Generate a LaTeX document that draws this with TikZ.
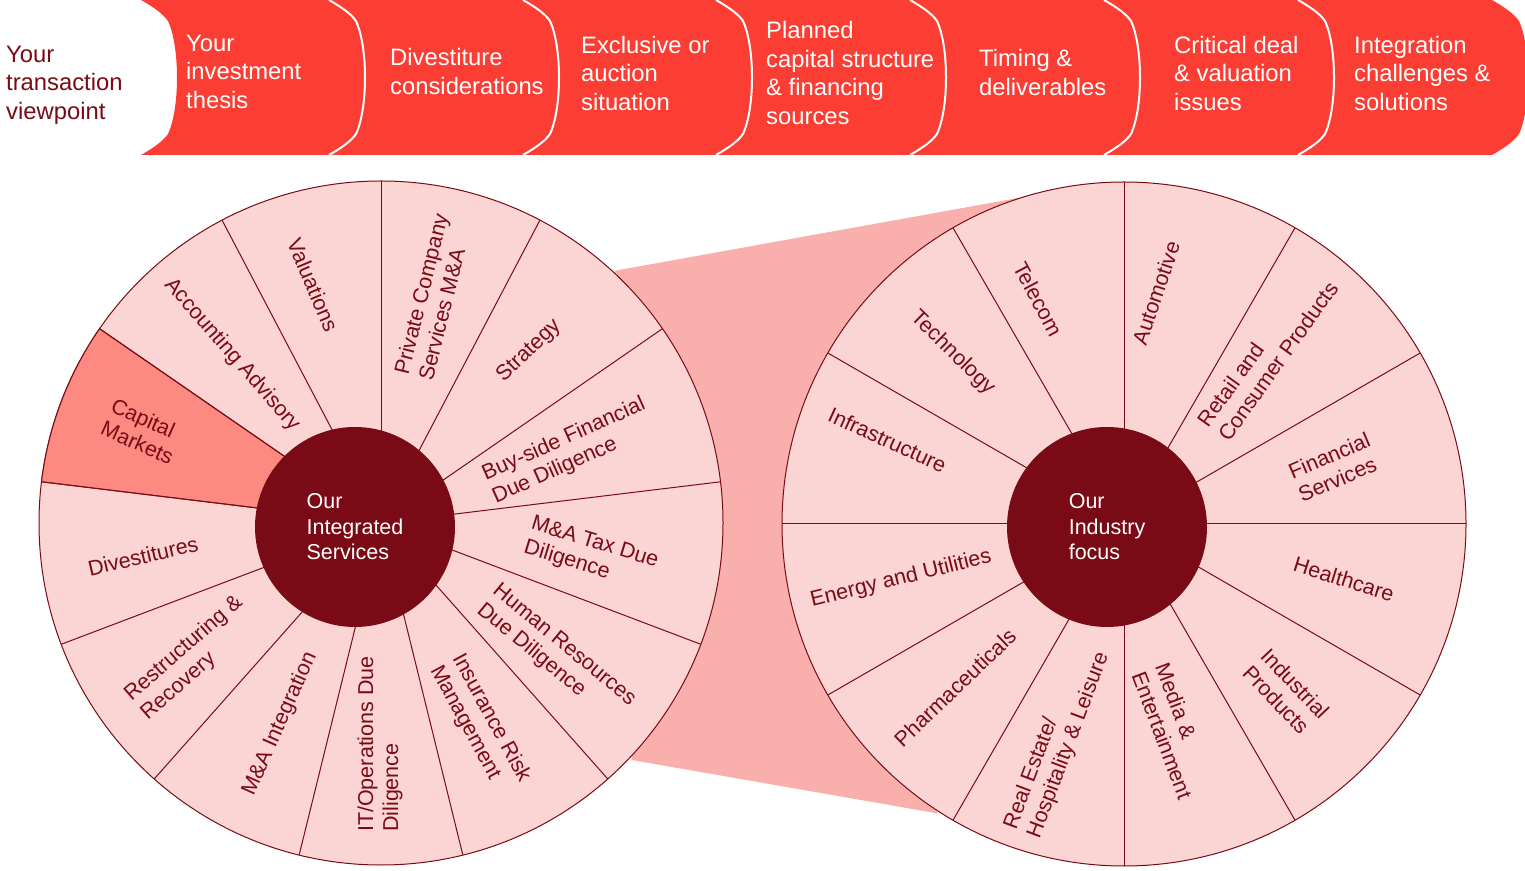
\documentclass[tikz,border=0pt]{standalone}
\usepackage{fontspec}
\setmainfont{Liberation Sans}

\definecolor{dealred}{RGB}{252,61,51}
\definecolor{wine}{RGB}{122,10,21}
\definecolor{petal}{RGB}{250,213,212}
\definecolor{petalhi}{RGB}{252,138,128}
\definecolor{bridge}{RGB}{249,176,172}

\newcommand{\stageedge}{.. controls +(14,-8) and +(-5,7) .. ++(27,-21) .. controls +(6,-13) and +(0,22) .. ++(9,-56.5) .. controls +(0,-22) and +(6,13) .. ++(-9,-56.5) .. controls +(-5,-7) and +(14,8) .. ++(-27,-21)}

\tikzset{
	stage/.style={anchor=west, inner sep=0pt, align=left, text=white, font=\fontsize{23.8}{28.5}\selectfont},
	slice/.style={inner sep=0pt, align=left, text=wine, font=\fontsize{21.5}{25}\selectfont},
	hub/.style={circle, fill=wine, minimum size=200pt, inner sep=0pt, align=left, text=white, font=\fontsize{21.5}{25.5}\selectfont},
	spoke/.style={draw=wine, line width=1pt}
}

\begin{document}
\begin{tikzpicture}[x=1pt,y=1pt]
	\useasboundingbox (0,0) rectangle (1525,870);
	
	\fill[dealred] (141,870) \stageedge -- (1492,715) -- (1492,870) -- cycle (1492,870) \stageedge -- cycle;
	\draw[white, line width=2pt] (329,870) \stageedge;
	\draw[white, line width=2pt] (523,870) \stageedge;
	\draw[white, line width=2pt] (716,870) \stageedge;
	\draw[white, line width=2pt] (910,870) \stageedge;
	\draw[white, line width=2pt] (1104,870) \stageedge;
	\draw[white, line width=2pt] (1298,870) \stageedge;
	
	\node[stage, text=wine] (viewpoint) at (6,785) {Your\\transaction\\viewpoint};
	\node[stage] (thesis) at (186,798.5) {Your\\investment\\thesis};
	\node[stage] (divcons) at (390,798.5) {Divestiture\\considerations};
	\node[stage] (auction) at (581,796.8) {Exclusive or\\auction\\situation};
	\node[stage] (capstruct) at (766,796.8) {Planned\\capital structure\\\& financing\\sources};
	\node[stage] (timing) at (979,797.7) {Timing \&\\deliverables};
	\node[stage] (critical) at (1174,796.5) {Critical deal\\\& valuation\\issues};
	\node[stage] (integrate) at (1354,796.5) {Integration\\challenges \&\\solutions};
	
	\fill[bridge] (615,599.3) -- (1018,672) -- (937,56.7) -- (631.7,110) -- cycle;
	
	\coordinate (svc) at (381,347);
	\filldraw[fill=petal, spoke] (svc) circle[radius=342];
	\filldraw[fill=petalhi, spoke] (svc) -- ++(145.38:342) arc[start angle=145.38, end angle=173.08, radius=342] -- cycle;
	\draw[spoke] (svc) -- ++(90:342);
	\draw[spoke] (svc) -- ++(62.31:342);
	\draw[spoke] (svc) -- ++(34.62:342);
	\draw[spoke] (svc) -- ++(6.92:342);
	\draw[spoke] (svc) -- ++(-20.77:342);
	\draw[spoke] (svc) -- ++(-48.46:342);
	\draw[spoke] (svc) -- ++(-76.15:342);
	\draw[spoke] (svc) -- ++(-103.85:342);
	\draw[spoke] (svc) -- ++(-131.54:342);
	\draw[spoke] (svc) -- ++(-159.23:342);
	\draw[spoke] (svc) -- ++(-186.92:342);
	\draw[spoke] (svc) -- ++(-214.62:342);
	\draw[spoke] (svc) -- ++(-242.31:342);
	\node[hub] (svchub) at (355,343) {Our\\Integrated\\Services};
	
	\node[slice, rotate=76] (pcsma) at (433,573) {Private Company\\Services M\&A};
	\node[slice, rotate=44] (strat) at (529,519) {Strategy};
	\node[slice, rotate=24] (buyside) at (569,419) {Buy-side Financial\\Due Diligence};
	\node[slice, rotate=-17] (taxdd) at (591,315) {M\&A Tax Due\\Diligence};
	\node[slice, rotate=-39.5] (hrdd) at (556,215) {Human Resources\\Due Diligence};
	\node[slice, rotate=-61.5] (insure) at (480,146) {Insurance Risk\\Management};
	\node[slice, rotate=90] (itdd) at (380,126) {IT/Operations Due\\Diligence};
	\node[slice, rotate=66] (integ) at (280,146) {M\&A Integration};
	\node[slice, rotate=41] (restruct) at (192,212) {Restructuring \&\\Recovery};
	\node[slice, rotate=13] (divest) at (143,314) {Divestitures};
	\node[slice, rotate=-24] (capmkt) at (142.5,439) {Capital\\Markets};
	\node[slice, rotate=-49] (acct) at (232,515) {Accounting Advisory};
	\node[slice, rotate=-67] (valu) at (313,585) {Valuations};
	
	\coordinate (ind) at (1124,346);
	\filldraw[fill=petal, spoke] (ind) circle[radius=342];
	\draw[spoke] (ind) -- ++(0:342);
	\draw[spoke] (ind) -- ++(30:342);
	\draw[spoke] (ind) -- ++(60:342);
	\draw[spoke] (ind) -- ++(90:342);
	\draw[spoke] (ind) -- ++(120:342);
	\draw[spoke] (ind) -- ++(150:342);
	\draw[spoke] (ind) -- ++(180:342);
	\draw[spoke] (ind) -- ++(210:342);
	\draw[spoke] (ind) -- ++(240:342);
	\draw[spoke] (ind) -- ++(270:342);
	\draw[spoke] (ind) -- ++(300:342);
	\draw[spoke] (ind) -- ++(330:342);
	\node[hub] (indhub) at (1107,343) {Our\\Industry\\focus};
	
	\node[slice, rotate=71.3] (auto) at (1156,577) {Automotive};
	\node[slice, rotate=54.4] (retail) at (1268,516) {Retail and\\Consumer Products};
	\node[slice, rotate=23.2] (finsvc) at (1334,403) {Financial\\Services};
	\node[slice, rotate=-17.3] (health) at (1344,291) {Healthcare};
	\node[slice, rotate=-46.4] (indprod) at (1286,178) {Industrial\\Products};
	\node[slice, rotate=-69.3] (media) at (1174,139) {Media \&\\Entertainment};
	\node[slice, rotate=69.4] (realest) at (1057,129) {Real Estate/\\Hospitality \& Leisure};
	\node[slice, rotate=43.8] (pharma) at (955,182.5) {Pharmaceuticals};
	\node[slice, rotate=13.9] (energy) at (901,291) {Energy and Utilities};
	\node[slice, rotate=-24.3] (infra) at (887.5,430) {Infrastructure};
	\node[slice, rotate=-44.4] (tech) at (952.5,517) {Technology};
	\node[slice, rotate=-62] (telecom) at (1038,571) {Telecom};
\end{tikzpicture}
\end{document}
